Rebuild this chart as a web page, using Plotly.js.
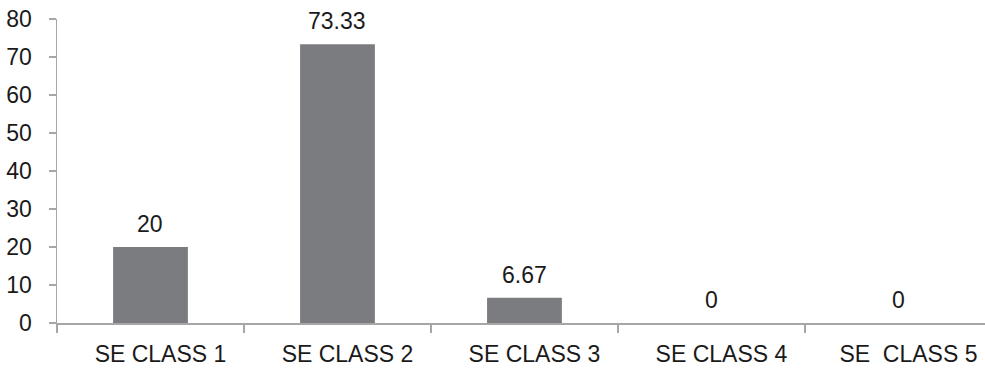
<!DOCTYPE html>
<html><head><meta charset="utf-8">
<script src="https://cdn.plot.ly/plotly-3.0.1.min.js"></script>
<style>html,body{margin:0;padding:0;background:#fff}#c{width:985px;height:370px}</style>
</head><body><div id="c"></div>
<script>
const categories = ["SE CLASS 1", "SE CLASS 2", "SE CLASS 3", "SE CLASS 4", "SE\u00a0 CLASS 5"];
const values = [20, 73.33, 6.67, 0, 0];
const valueLabels = ["20", "73.33", "6.67", "0", "0"];
const yTicks = [0, 10, 20, 30, 40, 50, 60, 70, 80];

const font = {family: "Liberation Sans, Arial, sans-serif", size: 23, color: "#1a1a1a"};

const trace = {
  type: "bar", x: categories, y: values,
  marker: {color: "#7b7c80"}, hoverinfo: "skip"
};

const annotations = categories.map((c, i) => ({
  x: c, y: values[i], xref: "x", yref: "y", text: valueLabels[i],
  showarrow: false, yanchor: "bottom", yshift: 8, font: font
}));

Plotly.newPlot("c", [trace], {
  width: 985, height: 370,
  margin: {l: 57, r: 0, t: 19, b: 47},
  paper_bgcolor: "#fff", plot_bgcolor: "#fff",
  bargap: 0.6, showlegend: false, font: font,
  xaxis: {
    type: "category", range: [-0.5, 4.463], showgrid: false, zeroline: false,
    showline: true, linecolor: "#a6a6a6", linewidth: 1.5,
    ticks: "outside", tickson: "boundaries", ticklen: 8, tickcolor: "#a6a6a6", tickwidth: 1.5,
    tickfont: font, ticklabelshift: 10, ticklabelstandoff: 10, fixedrange: true
  },
  yaxis: {
    range: [0, 80], tickvals: yTicks, showgrid: false, zeroline: false,
    showline: true, linecolor: "#a6a6a6", linewidth: 1.5,
    ticks: "outside", ticklen: 7, tickcolor: "#a6a6a6", tickwidth: 1.5,
    tickfont: font, ticklabelstandoff: 12, fixedrange: true
  },
  annotations: annotations
}, {displayModeBar: false, staticPlot: true});
</script></body></html>
